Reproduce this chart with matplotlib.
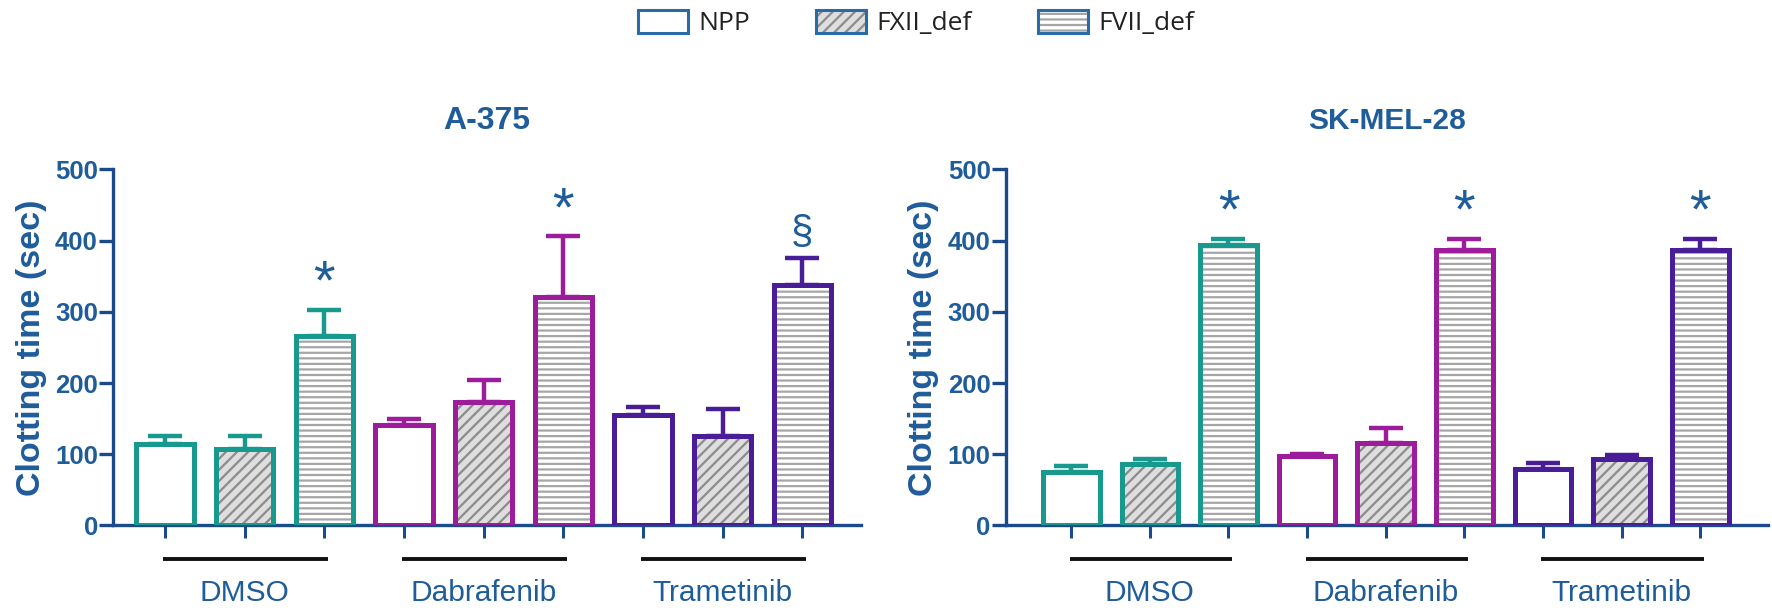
import matplotlib
matplotlib.use('Agg')
import matplotlib.pyplot as plt
import matplotlib.transforms as mtransforms
from matplotlib.patches import Patch
from matplotlib.legend_handler import HandlerTuple
import numpy as np

plt.rcParams['font.family'] = ['Liberation Sans', 'DejaVu Sans']
plt.rcParams['hatch.linewidth'] = 1.6

# ---------------- data ----------------
treatments = ['DMSO', 'Dabrafenib', 'Trametinib']
plasmas = ['NPP', 'FXII_def', 'FVII_def']

a375_title = 'A-375'
a375_mean = [[115, 108, 266], [141, 173, 321], [155, 125, 338]]
a375_err = [[10, 17, 37], [9, 32, 85], [11, 38, 38]]
a375_marks = [['', '', '*'], ['', '', '*'], ['', '', '§']]

sk_title = 'SK-MEL-28'
sk_mean = [[75, 87, 394], [97, 116, 387], [79, 93, 387]]
sk_err = [[9, 6, 8], [4, 21, 16], [9, 6, 16]]
sk_marks = [['', '', '*'], ['', '', '*'], ['', '', '*']]

y_ticks = [0, 100, 200, 300, 400, 500]
y_label = 'Clotting time (sec)'

# ---------------- style ----------------
treat_colors = ['#17998d', '#9c1c9c', '#4a1d98']
axis_color = '#1b4a8c'
text_color = '#1f5c9a'
fills = {'NPP': ('white', None, 'white'),
         'FXII_def': ('#dedede', '///', '#8c8c8c'),
         'FVII_def': ('white', '---', '#a6a6a6')}
bar_w = 0.72

fig = plt.figure(figsize=(17.72, 6.11), dpi=100)
ax1 = fig.add_axes([0.0638, 0.140, 0.4222, 0.5826])
ax2 = fig.add_axes([0.5677, 0.140, 0.4300, 0.5826])


def draw(ax, title, means, errs, marks, xlim, title_size):
    n_p = len(plasmas)
    xs_all = []
    for i, tr in enumerate(treatments):
        col = treat_colors[i]
        for j, pl in enumerate(plasmas):
            x = i * n_p + j
            xs_all.append(x)
            h = means[i][j]
            e = errs[i][j]
            face, hatch, hcol = fills[pl]
            ax.bar(x, h, width=bar_w, color=face, edgecolor=hcol, hatch=hatch,
                   linewidth=0, zorder=2)
            ax.bar(x, h, width=bar_w, fill=False, edgecolor=col, linewidth=3.6,
                   zorder=3)
            ax.errorbar(x, h, yerr=[[0], [e]], fmt='none', ecolor=col,
                        elinewidth=3.2, capsize=12, capthick=3.2, zorder=3)
            if marks[i][j]:
                star = marks[i][j] == '*'
                ax.text(x, h + e + (16 if star else 20), marks[i][j],
                        ha='center', va='baseline',
                        fontsize=40 if star else 29,
                        color=text_color, zorder=4)
        # group line + label
        trans = mtransforms.blended_transform_factory(ax.transData, ax.transAxes)
        x0 = i * n_p
        x1 = i * n_p + n_p - 1
        ax.plot([x0 - 0.02, x1 + 0.05], [-0.094, -0.094], transform=trans,
                color='#111111', linewidth=2.8, clip_on=False,
                solid_capstyle='butt')
        ax.text((x0 + x1) / 2, -0.19, tr, transform=trans, ha='center',
                va='center', fontsize=21.5, color=text_color)
    ax.set_xlim(*xlim)
    ax.set_ylim(0, 500)
    ax.set_yticks(y_ticks)
    ax.set_yticklabels([str(t) for t in y_ticks], fontweight='bold',
                       fontsize=18.5, color=text_color)
    ax.set_xticks(xs_all)
    ax.set_xticklabels([])
    for s in ['top', 'right']:
        ax.spines[s].set_visible(False)
    for s in ['left', 'bottom']:
        ax.spines[s].set_color(axis_color)
        ax.spines[s].set_linewidth(2.4)
    ax.tick_params(axis='y', direction='out', length=10, width=2.4,
                   color=axis_color, pad=1)
    ax.tick_params(axis='x', direction='out', length=9, width=2.2,
                   color=axis_color)
    ax.set_ylabel(y_label, fontsize=24.5, fontweight='bold', color=text_color,
                  labelpad=6)
    ax.text(0.5, 1.115, title, transform=ax.transAxes, ha='center',
            va='baseline', fontsize=title_size, fontweight='bold',
            color=text_color)


draw(ax1, a375_title, a375_mean, a375_err, a375_marks, (-0.65, 8.74), 23)
draw(ax2, sk_title, sk_mean, sk_err, sk_marks, (-0.83, 8.86), 21.5)

# legend
handles = []
for pl in plasmas:
    face, hatch, hcol = fills[pl]
    p_fill = Patch(facecolor=face, edgecolor=hcol, hatch=hatch, linewidth=0)
    p_edge = Patch(facecolor='none', edgecolor='#2a6aa6', linewidth=2.2)
    handles.append((p_fill, p_edge))
leg = fig.legend(handles, plasmas, handler_map={tuple: HandlerTuple(ndivide=1, pad=0)},
                 loc='center', bbox_to_anchor=(0.517, 0.962), ncol=3,
                 frameon=False, prop={'family': 'Open Sans', 'size': 19},
                 handlelength=1.9, handleheight=0.95, handletextpad=0.4,
                 columnspacing=2.5, borderpad=0.1)
for t in leg.get_texts():
    t.set_color('#222222')

fig.savefig('out.png', dpi=100)
